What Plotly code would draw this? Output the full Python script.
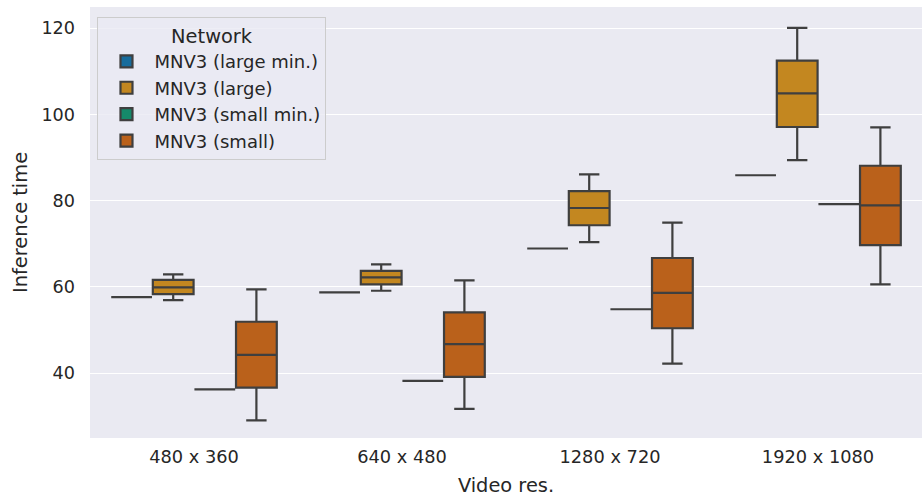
import plotly.graph_objects as go

# Video resolutions on the x axis
resolutions = ["480 x 360", "640 x 480", "1280 x 720", "1920 x 1080"]

# Networks (hue groups) and their fill colours
networks = ["MNV3 (large min.)", "MNV3 (large)", "MNV3 (small min.)", "MNV3 (small)"]
colors = ["#176C9C", "#C38720", "#158A6A", "#BA611B"]

# Box statistics per network, one entry per resolution
large_min_val = [57.6, 58.7, 68.9, 85.9]

large_low = [56.9, 59.1, 70.4, 89.4]
large_q1 = [58.3, 60.6, 74.3, 97.1]
large_med = [59.9, 62.2, 78.3, 104.9]
large_q3 = [61.6, 63.7, 82.2, 112.5]
large_high = [62.9, 65.2, 86.1, 120.1]

small_min_val = [36.2, 38.2, 54.8, 79.2]

small_low = [29.0, 31.7, 42.2, 60.6]
small_q1 = [36.6, 39.1, 50.4, 69.7]
small_med = [44.2, 46.7, 58.6, 78.9]
small_q3 = [51.9, 54.1, 66.7, 88.1]
small_high = [59.4, 61.5, 74.9, 97.0]

stats = [
    (large_min_val, large_min_val, large_min_val, large_min_val, large_min_val),
    (large_low, large_q1, large_med, large_q3, large_high),
    (small_min_val, small_min_val, small_min_val, small_min_val, small_min_val),
    (small_low, small_q1, small_med, small_q3, small_high),
]

fig = go.Figure()
for name, color, (lo, q1, med, q3, hi) in zip(networks, colors, stats):
    fig.add_trace(go.Box(
        name=name,
        x=resolutions,
        lowerfence=lo, q1=q1, median=med, q3=q3, upperfence=hi,
        fillcolor=color,
        line=dict(color="#3f3f3f", width=2.2),
        whiskerwidth=0.5,
        boxpoints=False,
        hoverinfo="skip",
    ))

font_family = "DejaVu Sans"
fig.update_layout(
    width=922, height=499,
    margin=dict(l=90, r=0, t=7, b=61, autoexpand=False),
    paper_bgcolor="white",
    plot_bgcolor="#EAEAF2",
    boxmode="group",
    boxgap=0.2,
    boxgroupgap=0.02,
    font=dict(family=font_family, size=17.6, color="#262626"),
    xaxis=dict(
        title=dict(text="Video res.", font=dict(size=19.4), standoff=12),
        categoryorder="array", categoryarray=resolutions,
        range=[-0.5, 3.5],
        showgrid=False, zeroline=False, showline=False,
        ticks="", tickfont=dict(size=17.8), ticklabelstandoff=6,
    ),
    yaxis=dict(
        title=dict(text="Inference time", font=dict(size=19.4), standoff=8),
        range=[24.93, 124.94],
        tickvals=[40, 60, 80, 100, 120],
        showgrid=True, gridcolor="white", gridwidth=1.3,
        zeroline=False, showline=False,
        ticks="", tickfont=dict(size=17.6), ticklabelstandoff=14,
    ),
    legend=dict(
        title=dict(text="Network", side="top center", font=dict(size=19.4)),
        x=0.009, y=0.977, xanchor="left", yanchor="top",
        bgcolor="rgba(234,234,242,0.8)",
        bordercolor="#cccccc", borderwidth=1,
        font=dict(size=18),
        itemwidth=46,
        tracegroupgap=0,
    ),
)

fig.write_html("out.html")
